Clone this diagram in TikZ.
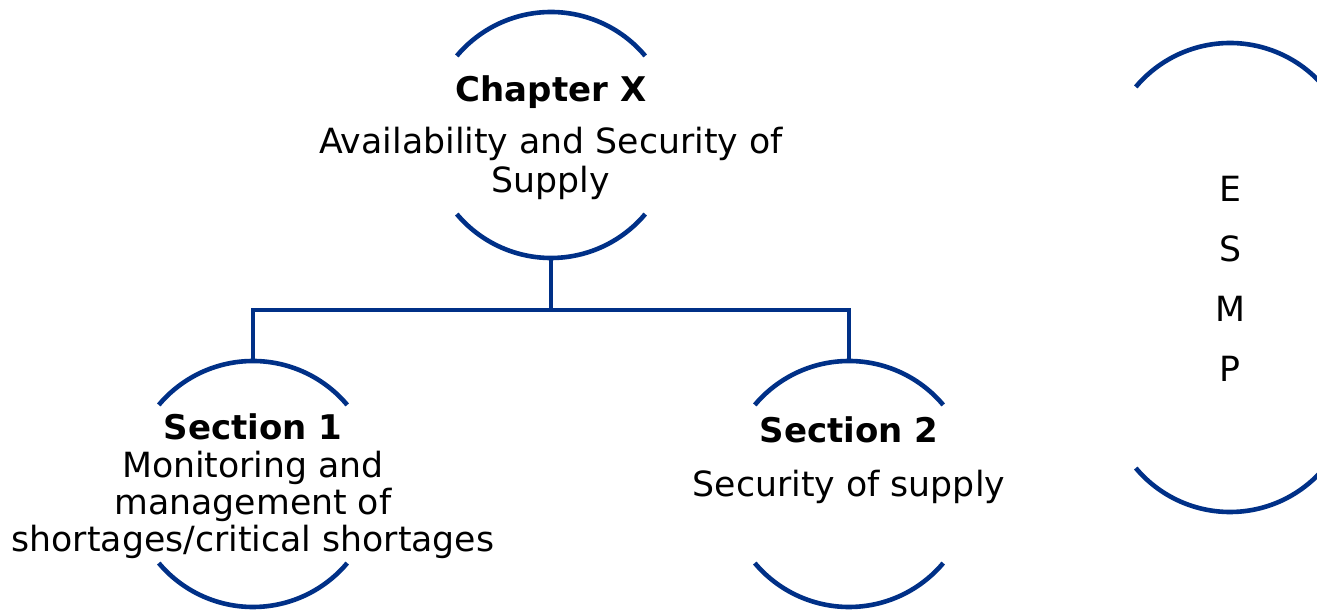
\documentclass[tikz,border=0pt]{standalone}
\usepackage{fontspec}
\setmainfont{DejaVu Sans}
\usepackage{tikz}
\usetikzlibrary{
        calc,
        positioning
    }
\definecolor{esmpblue}{RGB}{0,48,135}
\tikzset{x=1pt,y=1pt}
\tikzset{ring/.style={circle,minimum size=246pt,inner sep=0pt,outer sep=0pt}}
\tikzset{arcline/.style={draw=esmpblue,line width=4.6pt}}
\tikzset{body text/.style={anchor=base,align=center,font=\fontsize{34.7}{39}\selectfont}}
\tikzset{head text/.style={anchor=base,align=center,font=\fontsize{34}{39}\selectfont\bfseries}}
\newcommand{\halfring}[1]{%
  \draw[arcline] (#1.40) arc[start angle=40,end angle=140,radius=123]
                 (#1.220) arc[start angle=220,end angle=320,radius=123];}

\begin{document}
\begin{tikzpicture}
                \useasboundingbox (0,0) rectangle (1317,610);
                % rings
                \node[ring] (ch)   at (551,475) {};
                \node[ring] (sec1) at (253,126) {};
                \node[ring] (sec2) at (849,126) {};
                \coordinate (esmptop) at (1230,444);
                \coordinate (esmpbot) at (1230,221);
                \halfring{ch}
                \halfring{sec1}
                \halfring{sec2}
                \draw[arcline] ($(esmptop)+(40:123)$) arc[start angle=40,end angle=140,radius=123];
                \draw[arcline] ($(esmpbot)+(220:123)$) arc[start angle=220,end angle=320,radius=123];
                % texts (base = last line)
                \node[head text] (chhead) at (551,508) {Chapter X};
                \node[body text] (chbody) at (551,417) {Availability and Security of\\Supply};
                \node[head text] (sec1head) at (253,170) {Section 1};
                \node[body text,font=\fontsize{34.7}{37}\selectfont] (sec1body) at (253,58)
                    {Monitoring and\\management of\\shortages/critical shortages};
                \node[head text] (sec2head) at (849,167) {Section 2};
                \node[body text] (sec2body) at (849,113) {Security of supply};
                \node[body text,font=\fontsize{34.7}{60}\selectfont] (esmp) at (1230,228) {E\\S\\M\\P};
                % tree
                \coordinate (bar) at (551,300);
                \draw[arcline] (ch.south) -- (bar);
                \draw[arcline] (bar) -| (sec1.north);
                \draw[arcline] (bar) -| (sec2.north);
\end{tikzpicture}
\end{document}
